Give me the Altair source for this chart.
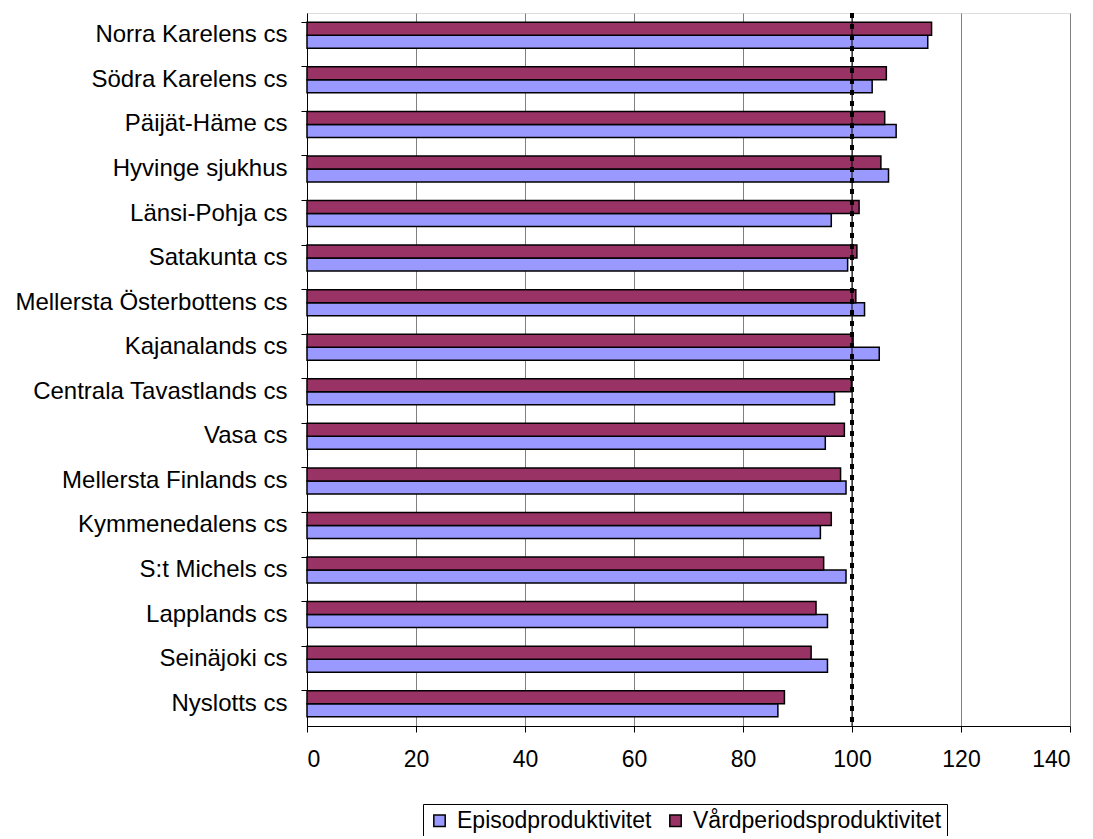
import altair as alt
import pandas as pd

categories = ["Norra Karelens cs", "Södra Karelens cs", "Päijät-Häme cs", "Hyvinge sjukhus",
              "Länsi-Pohja cs", "Satakunta cs", "Mellersta Österbottens cs", "Kajanalands cs",
              "Centrala Tavastlands cs", "Vasa cs", "Mellersta Finlands cs", "Kymmenedalens cs",
              "S:t Michels cs", "Lapplands cs", "Seinäjoki cs", "Nyslotts cs"]
episod = [113.9, 103.7, 108.1, 106.7, 96.2, 99.2, 102.3, 105.0,
          96.8, 95.1, 98.9, 94.2, 98.9, 95.5, 95.5, 86.4]
vard = [114.6, 106.3, 106.0, 105.3, 101.3, 100.9, 100.7, 100.2,
        99.9, 98.6, 97.9, 96.2, 94.8, 93.4, 92.5, 87.6]
series = ["Episodproduktivitet", "Vårdperiodsproduktivitet"]
colors = ["#9999FF", "#993366"]
ref_value = [100]

rows = []
for c, e, v in zip(categories, episod, vard):
    rows.append({"cat": c, "serie": series[0], "val": e})
    rows.append({"cat": c, "serie": series[1], "val": v})
df = pd.DataFrame(rows)
ref = pd.DataFrame({"x": ref_value})

FONT = "Liberation Sans"

xscale = alt.Scale(domain=[0, 140], nice=False, zero=True)

bars = alt.Chart(df).mark_bar(stroke="black", strokeWidth=1.5).encode(
    y=alt.Y("cat:N", sort=categories, title=None,
            scale=alt.Scale(paddingInner=0.416, paddingOuter=0.208),
            axis=alt.Axis(labelFont=FONT, labelFontSize=24, labelColor="black",
                          labelPadding=14, tickSize=6, tickColor="black",
                          domainColor="black", bandPosition=0, grid=False,
                          labelLimit=400)),
    yOffset=alt.YOffset("serie:N", sort=[series[1], series[0]],
                        scale=alt.Scale(domain=[series[1], series[0]], paddingInner=0, paddingOuter=0)),
    x=alt.X("val:Q", scale=xscale, title=None,
            axis=alt.Axis(values=[0, 20, 40, 60, 80, 100, 120, 140], labelFont=FONT,
                          labelFontSize=23, labelColor="black", labelPadding=16,
                          tickSize=6, tickColor="black", domainColor="black",
                          grid=True, gridColor="#808080", gridWidth=1)),
    color=alt.Color("serie:N", scale=alt.Scale(domain=series, range=colors),
                    legend=alt.Legend(title=None, orient="none", legendX=116, legendY=791,
                                      direction="horizontal", symbolType="square",
                                      symbolSize=130, symbolStrokeColor="black",
                                      symbolStrokeWidth=1.5, labelFont=FONT,
                                      labelFontSize=23, labelColor="black", labelLimit=400,
                                      strokeColor="black", padding=5, columnPadding=12,
                                      symbolOffset=0, labelOffset=6, fillColor="white")),
)

line_solid = alt.Chart(ref).mark_rule(color="black", strokeWidth=1).encode(
    x=alt.X("x:Q", scale=xscale))
line_dots = alt.Chart(ref).mark_rule(color="black", strokeWidth=4, strokeDash=[5, 6]).encode(
    x=alt.X("x:Q", scale=xscale))

chart = alt.layer(bars, line_solid, line_dots).properties(
    width=763, height=713,
    autosize=alt.AutoSizeParams(type="none"),
    padding={"left": 299, "top": 5, "right": 15, "bottom": 110},
).configure_view(stroke="#808080", strokeWidth=1.5).configure(background="white")

chart.save("out.html", embed_options={"renderer": "svg", "actions": False})
